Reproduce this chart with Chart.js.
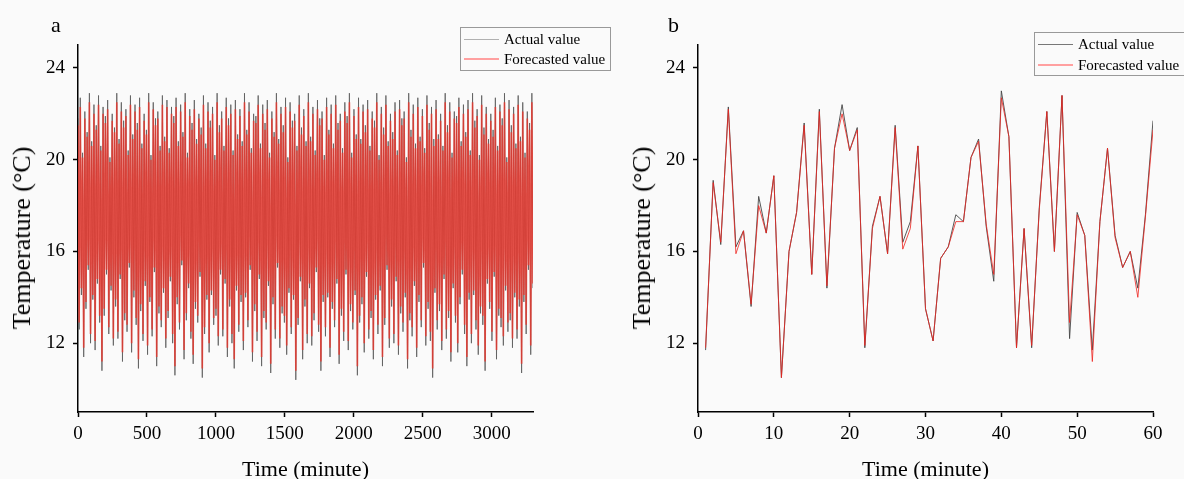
<!DOCTYPE html>
<html lang="en">
<head>
<meta charset="utf-8">
<script src="https://cdn.jsdelivr.net/npm/chart.js"></script>
<style>
    html, body {
        margin: 0;
        height: 100%;
        background: #fff;
    }
    #fig {
        position: absolute;
        left: 0;
        top: 0;
        width: 1184px;
        height: 479px;
        background: #fafafa;
        overflow: hidden;
        font-family: "Liberation Serif", "Times New Roman", serif;
        color: #000;
    }
    canvas {
        position: absolute;
        top: 0;
    }
    .panel {
        position: absolute;
        font-size: 22px;
        line-height: 22px;
    }
    .ytitle {
        position: absolute;
        font-size: 26px;
        line-height: 26px;
        white-space: nowrap;
        transform: translate(-50%, -50%) rotate(-90deg);
    }
    .legend {
        position: absolute;
        width: 149px;
        height: 42px;
        border: 1px solid #999;
        font-size: 15px;
    }
    .legend .row {
        position: absolute;
        left: 0;
        width: 100%;
        height: 20px;
        line-height: 20px;
    }
    .legend .swatch {
        position: absolute;
        left: 3px;
        top: 10px;
        width: 35px;
        height: 0;
        border-top: 1px solid;
    }
    .legend .swatch.red {
        top: 9px;
        border-top: 2px solid #ffa0a0;
    }
    .legend .lbl {
        position: absolute;
        left: 43px;
        top: 0;
        white-space: nowrap;
    }
</style>
</head>
<body>

<div id="fig">
    <canvas id="chartA" width="560" height="479" style="left:0px"></canvas>
    <canvas id="chartB" width="564" height="479" style="left:620px"></canvas>

    <div class="panel" style="left:51px; top:14px">a</div>
    <div class="panel" style="left:668px; top:14px">b</div>

    <div class="ytitle" style="left:22px; top:238px">Temperature (°C)</div>
    <div class="ytitle" style="left:642px; top:238px">Temperature (°C)</div>

    <div class="legend" style="left:460px; top:27px">
        <div class="row" style="top:1px"><div class="swatch" style="border-color:#b0b0b0"></div><div class="lbl">Actual value</div></div>
        <div class="row" style="top:21px"><div class="swatch red"></div><div class="lbl">Forecasted value</div></div>
    </div>
    <div class="legend" style="left:1034px; top:32px">
        <div class="row" style="top:1px"><div class="swatch" style="border-color:#777"></div><div class="lbl">Actual value</div></div>
        <div class="row" style="top:22px"><div class="swatch red"></div><div class="lbl">Forecasted value</div></div>
    </div>
</div>

<script>
    // panel a: whole test period (resampled readings, 0 - 3300 min)
    const actualA = [
        21.8, 12.6, 22.7, 14.1, 20.3, 11.4, 22.1, 13.5, 21.2, 15.2, 22.9, 12.0, 20.8, 13.9, 22.4, 11.7, 21.5, 14.6, 22.8, 12.9,
        20.6, 10.8, 22.3, 13.2, 21.9, 15.0, 22.6, 12.4, 20.1, 14.3, 22.0, 11.9, 21.4, 13.6, 22.9, 12.2, 20.9, 14.8, 22.5, 11.2,
        21.7, 13.0, 22.2, 12.5, 20.4, 15.3, 22.8, 11.6, 21.1, 14.0, 22.4, 12.8, 21.6, 10.9, 22.7, 13.4, 20.7, 12.1, 22.0, 14.5,
        21.3, 11.5, 22.9, 13.8, 20.2, 12.3, 22.5, 15.1, 21.8, 11.0, 22.1, 13.3, 20.6, 12.7, 22.8, 14.2, 21.0, 11.8, 22.6, 13.1,
        20.5, 14.7, 22.3, 12.0, 21.9, 10.6, 22.7, 13.7, 20.8, 12.6, 22.4, 15.4, 21.2, 11.3, 22.9, 13.0, 20.3, 14.4, 22.2, 12.2,
        21.6, 11.1, 22.6, 13.5, 20.9, 12.9, 22.0, 14.9, 21.4, 10.5, 22.8, 12.4, 20.7, 13.9, 22.5, 11.6, 21.7, 14.1, 22.3, 12.8,
        20.2, 13.2, 22.9, 11.9, 21.5, 15.0, 22.1, 12.3, 20.6, 14.6, 22.7, 11.4, 21.8, 13.6, 22.4, 12.0, 20.4, 10.9, 22.6, 14.3,
        21.1, 12.5, 22.2, 13.8, 20.8, 11.7, 22.9, 14.0, 21.3, 12.7, 22.5, 15.2, 20.5, 11.2, 22.0, 13.4, 21.9, 12.1, 22.8, 14.8,
        20.7, 11.0, 22.4, 13.1, 21.6, 12.6, 22.6, 14.5, 20.3, 10.7, 22.1, 13.7, 21.2, 12.2, 22.9, 15.3, 20.9, 11.8, 22.3, 13.3,
        21.5, 12.9, 22.7, 11.5, 20.1, 14.2, 22.5, 12.4, 21.7, 13.9, 22.0, 10.4, 20.6, 12.8, 22.8, 14.7, 21.4, 11.3, 22.2, 13.6,
        20.8, 12.0, 22.9, 14.4, 21.0, 11.9, 22.3, 13.0, 20.4, 15.1, 22.6, 12.5, 21.8, 10.8, 22.1, 13.8, 20.2, 12.3, 22.7, 14.0,
        21.3, 11.4, 22.4, 13.5, 20.7, 12.7, 22.8, 14.6, 21.6, 11.1, 22.0, 13.2, 20.5, 12.1, 22.5, 15.0, 21.9, 11.7, 22.9, 13.4,
        20.3, 12.6, 22.2, 14.1, 21.1, 10.6, 22.7, 12.9, 20.9, 13.7, 22.4, 11.6, 21.5, 14.9, 22.6, 12.2, 20.6, 13.1, 22.1, 11.3,
        21.7, 13.9, 22.9, 12.4, 20.2, 14.3, 22.3, 11.0, 21.4, 12.8, 22.8, 15.2, 20.8, 11.8, 22.0, 13.6, 21.2, 12.0, 22.5, 14.7,
        20.4, 11.5, 22.6, 13.3, 21.8, 12.5, 22.1, 14.0, 20.1, 10.9, 22.9, 13.0, 21.3, 12.3, 22.4, 14.5, 20.7, 11.4, 22.7, 13.8,
        21.0, 12.7, 22.2, 15.3, 20.5, 11.9, 22.8, 13.5, 21.6, 12.1, 22.3, 10.5, 20.9, 14.2, 22.6, 12.6, 21.1, 13.4, 22.0, 11.7,
        20.6, 14.8, 22.9, 12.2, 21.5, 13.1, 22.5, 11.2, 20.3, 14.4, 22.1, 12.9, 21.9, 11.6, 22.7, 13.7, 20.8, 15.0, 22.4, 12.4,
        21.2, 11.0, 22.6, 13.9, 20.4, 12.0, 22.9, 14.1, 21.7, 12.6, 22.2, 11.5, 20.2, 13.3, 22.8, 12.8, 21.4, 10.8, 22.3, 14.6,
        20.9, 13.5, 22.0, 12.1, 21.3, 14.9, 22.7, 11.3, 20.6, 13.2, 22.4, 12.7, 21.8, 11.9, 22.9, 14.3, 20.1, 12.5, 22.6, 13.0,
        21.5, 11.8, 22.3, 14.0, 20.7, 12.2, 22.8, 13.6, 21.0, 10.7, 22.5, 13.8, 20.3, 12.4, 22.1, 15.2, 21.6, 11.5, 22.9, 14.4
    ];
    const forecastA = [
        21.5, 12.9, 22.3, 14.4, 20.1, 11.8, 21.8, 13.8, 21.0, 15.4, 22.5, 12.4, 20.6, 14.1, 22.0, 12.1, 21.3, 14.8, 22.4, 13.2,
        20.4, 11.2, 22.0, 13.5, 21.6, 15.2, 22.2, 12.7, 19.9, 14.5, 21.7, 12.2, 21.2, 13.9, 22.5, 12.5, 20.7, 15.0, 22.1, 11.6,
        21.4, 13.3, 21.9, 12.8, 20.2, 15.5, 22.4, 12.0, 20.9, 14.3, 22.1, 13.1, 21.3, 11.3, 22.3, 13.7, 20.5, 12.4, 21.7, 14.7,
        21.1, 11.9, 22.5, 14.0, 20.0, 12.6, 22.2, 15.3, 21.5, 11.4, 21.8, 13.6, 20.4, 13.0, 22.4, 14.4, 20.8, 12.2, 22.3, 13.4,
        20.3, 14.9, 22.0, 12.4, 21.6, 11.0, 22.3, 14.0, 20.6, 12.9, 22.1, 15.6, 21.0, 11.7, 22.5, 13.3, 20.1, 14.6, 21.9, 12.5,
        21.3, 11.5, 22.2, 13.8, 20.7, 13.2, 21.8, 15.1, 21.1, 10.9, 22.4, 12.7, 20.5, 14.1, 22.1, 12.0, 21.4, 14.3, 22.0, 13.1,
        20.0, 13.5, 22.5, 12.3, 21.2, 15.2, 21.8, 12.6, 20.4, 14.8, 22.3, 11.8, 21.5, 13.9, 22.0, 12.4, 20.2, 11.3, 22.2, 14.5,
        20.9, 12.8, 21.9, 14.1, 20.6, 12.1, 22.5, 14.2, 21.1, 13.0, 22.1, 15.4, 20.3, 11.6, 21.7, 13.7, 21.6, 12.5, 22.4, 15.0,
        20.5, 11.4, 22.0, 13.4, 21.3, 12.9, 22.2, 14.7, 20.1, 11.1, 21.8, 14.0, 21.0, 12.6, 22.5, 15.5, 20.7, 12.2, 22.0, 13.6,
        21.2, 13.2, 22.3, 11.9, 19.9, 14.4, 22.1, 12.7, 21.4, 14.1, 21.7, 10.8, 20.4, 13.1, 22.4, 14.9, 21.1, 11.7, 21.9, 13.9,
        20.6, 12.4, 22.5, 14.6, 20.8, 12.3, 22.0, 13.3, 20.2, 15.3, 22.2, 12.8, 21.5, 11.2, 21.8, 14.1, 20.0, 12.7, 22.3, 14.2,
        21.1, 11.8, 22.0, 13.8, 20.5, 13.0, 22.4, 14.8, 21.3, 11.5, 21.7, 13.5, 20.3, 12.5, 22.1, 15.2, 21.6, 12.1, 22.5, 13.7,
        20.1, 12.9, 21.9, 14.3, 20.9, 11.0, 22.3, 13.2, 20.7, 14.0, 22.1, 12.0, 21.2, 15.1, 22.2, 12.6, 20.4, 13.4, 21.8, 11.7,
        21.4, 14.1, 22.5, 12.8, 20.0, 14.5, 22.0, 11.4, 21.1, 13.1, 22.4, 15.4, 20.6, 12.2, 21.7, 13.9, 20.9, 12.4, 22.1, 14.9,
        20.2, 11.9, 22.2, 13.6, 21.5, 12.9, 21.8, 14.2, 19.9, 11.3, 22.5, 13.3, 21.0, 12.7, 22.0, 14.7, 20.5, 11.8, 22.3, 14.1,
        20.8, 13.0, 21.9, 15.5, 20.3, 12.3, 22.4, 13.8, 21.3, 12.5, 22.0, 10.9, 20.6, 14.4, 22.2, 13.0, 20.9, 13.7, 21.7, 12.1,
        20.4, 15.0, 22.5, 12.6, 21.2, 13.4, 22.1, 11.6, 20.1, 14.6, 21.8, 13.2, 21.6, 12.0, 22.3, 14.0, 20.6, 15.2, 22.0, 12.8,
        21.0, 11.4, 22.2, 14.2, 20.2, 12.4, 22.5, 14.3, 21.4, 13.0, 21.9, 11.9, 20.0, 13.6, 22.4, 13.2, 21.1, 11.2, 22.0, 14.8,
        20.7, 13.8, 21.7, 12.5, 21.0, 15.1, 22.3, 11.7, 20.4, 13.5, 22.1, 13.1, 21.5, 12.3, 22.5, 14.5, 19.9, 12.9, 22.2, 13.3,
        21.2, 12.2, 22.0, 14.2, 20.5, 12.6, 22.4, 13.9, 20.8, 11.1, 22.1, 14.1, 20.1, 12.8, 21.8, 15.4, 21.3, 11.9, 22.5, 14.6
    ];
    const spanA = 3300;

    // panel b: first hour, one reading per minute
    const minutesB = [
        1, 2, 3, 4, 5, 6, 7, 8, 9, 10, 11, 12, 13, 14, 15, 16, 17, 18, 19, 20,
        21, 22, 23, 24, 25, 26, 27, 28, 29, 30, 31, 32, 33, 34, 35, 36, 37, 38, 39, 40,
        41, 42, 43, 44, 45, 46, 47, 48, 49, 50, 51, 52, 53, 54, 55, 56, 57, 58, 59, 60
    ];
    const actualB = [
        11.7, 19.1, 16.3, 22.3, 16.2, 16.9, 13.6, 18.4, 16.8, 19.3, 10.5, 16.0, 17.7, 21.6, 15.0, 22.2, 14.4, 20.5, 22.4, 20.4,
        21.4, 11.8, 17.1, 18.4, 15.9, 21.5, 16.4, 17.3, 20.6, 13.5, 12.1, 15.7, 16.2, 17.6, 17.3, 20.1, 20.9, 17.1, 14.7, 23.0,
        21.0, 11.8, 17.0, 11.8, 17.9, 22.1, 16.0, 22.8, 12.2, 17.7, 16.7, 11.7, 17.3, 20.5, 16.7, 15.3, 16.0, 14.4, 17.6, 21.7
    ];
    const forecastB = [
        11.8, 19.0, 16.4, 22.2, 15.9, 16.9, 13.7, 18.0, 16.8, 19.3, 10.5, 16.0, 17.7, 21.5, 15.0, 22.1, 14.5, 20.5, 22.0, 20.4,
        21.3, 11.9, 17.0, 18.4, 15.9, 21.4, 16.1, 17.0, 20.6, 13.5, 12.1, 15.7, 16.2, 17.3, 17.3, 20.1, 20.8, 17.2, 15.0, 22.7,
        21.0, 11.8, 17.0, 11.9, 17.8, 22.1, 16.0, 22.8, 12.9, 17.6, 16.7, 11.2, 17.3, 20.5, 16.6, 15.3, 16.0, 14.0, 17.5, 21.3
    ];

    const ticksA = [0, 500, 1000, 1500, 2000, 2500, 3000];
    const ticksB = [0, 10, 20, 30, 40, 50, 60];
    const ticksY = [12, 16, 20, 24];

    // evenly spaced sample times over the test period
    const minutesA = actualA.map((v, i) => i * spanA / (actualA.length - 1));

    Chart.defaults.font.family = '"Liberation Serif", "Times New Roman", serif';
    Chart.defaults.color = '#000';

    function toPoints(xs, ys) {
        return xs.map((x, i) => ({ x: x, y: ys[i] }));
    }

    function makeChart(id, xs, actual, forecast, xMax, xTicks, rightPad, look) {
        return new Chart(document.getElementById(id), {
            type: 'line',
            data: {
                datasets: [
                    {
                        label: 'Actual value',
                        data: toPoints(xs, actual),
                        borderColor: look.actualColor,
                        borderWidth: look.actualWidth,
                        order: 2
                    },
                    {
                        label: 'Forecasted value',
                        data: toPoints(xs, forecast),
                        borderColor: look.forecastColor,
                        borderWidth: look.forecastWidth,
                        order: 1
                    }
                ]
            },
            options: {
                responsive: false,
                animation: false,
                layout: { padding: { top: 45, right: rightPad, left: 0, bottom: 0 } },
                plugins: { legend: { display: false }, tooltip: { enabled: false } },
                elements: {
                    point: { radius: 0 },
                    line: { tension: 0 }
                },
                scales: {
                    x: {
                        type: 'linear',
                        min: 0,
                        max: xMax,
                        afterBuildTicks: s => { s.ticks = xTicks.map(v => ({ value: v })); },
                        afterFit: s => { s.height = 67; },
                        grid: { drawOnChartArea: false, color: '#000', tickLength: 5, tickWidth: 1.5 },
                        border: { color: '#000', width: 1.5 },
                        ticks: { autoSkip: false, maxRotation: 0, padding: 6, font: { size: 19 }, callback: v => String(v) },
                        title: { display: true, text: 'Time (minute)', font: { size: 22, lineHeight: 0.8 }, padding: 0 }
                    },
                    y: {
                        min: 9,
                        max: 25,
                        afterBuildTicks: s => { s.ticks = ticksY.map(v => ({ value: v })); },
                        afterFit: s => { s.width = 78; },
                        grid: { drawOnChartArea: false, color: '#000', tickLength: 5, tickWidth: 1.5 },
                        border: { color: '#000', width: 1.5 },
                        ticks: { autoSkip: false, padding: 8, font: { size: 19 }, callback: v => String(v) },
                        title: { display: false }
                    }
                }
            }
        });
    }

    makeChart('chartA', minutesA, actualA, forecastA, spanA, ticksA, 27, {
        actualColor: 'rgba(95,95,95,0.85)', actualWidth: 1,
        forecastColor: 'rgba(236,52,42,0.8)', forecastWidth: 1.6
    });
    makeChart('chartB', minutesB, actualB, forecastB, 60, ticksB, 31, {
        actualColor: 'rgba(70,70,70,0.9)', actualWidth: 1,
        forecastColor: 'rgba(238,35,30,0.8)', forecastWidth: 1
    });
</script>

</body>
</html>
